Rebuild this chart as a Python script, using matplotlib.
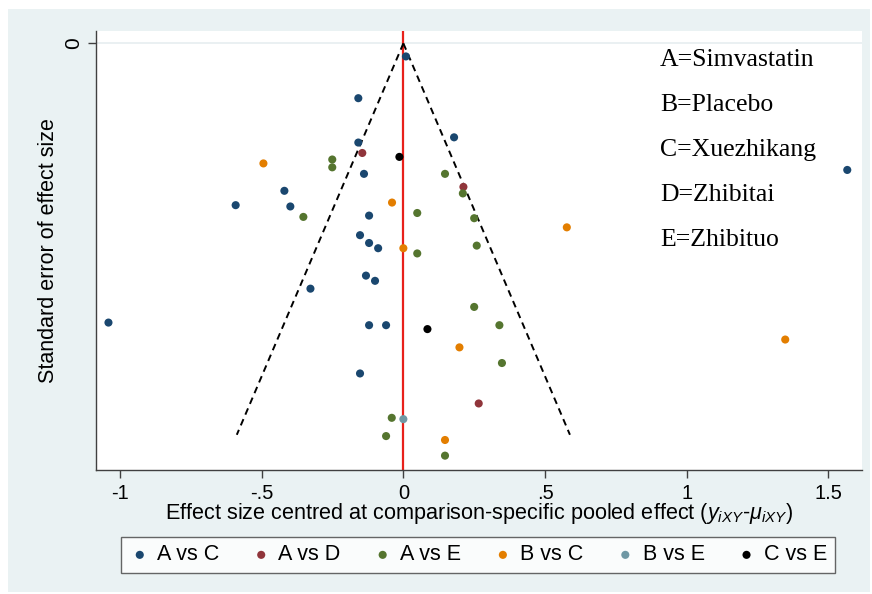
import matplotlib
matplotlib.use("Agg")
import matplotlib.pyplot as plt
from matplotlib.patches import Rectangle

plt.rcParams["mathtext.fontset"] = "custom"
plt.rcParams["mathtext.it"] = "Liberation Sans:italic"
plt.rcParams["mathtext.rm"] = "Liberation Sans"

# ---- data (effect centred, standard error) ----
ac_x = [0.009, -0.159, -0.159, -0.139, -0.420, -0.592, -0.399, -0.121, -0.153, -0.121,
        -0.089, -0.132, -0.100, -0.328, -1.041, -0.121, -0.061, -0.153, 0.179, 1.567]
ac_se = [0.010, 0.042, 0.076, 0.100, 0.113, 0.124, 0.125, 0.132, 0.147, 0.153,
         0.157, 0.178, 0.182, 0.188, 0.214, 0.216, 0.216, 0.253, 0.072, 0.097]
ad_x = [-0.145, 0.212, 0.266]
ad_se = [0.084, 0.110, 0.276]
ae_x = [-0.251, -0.251, -0.353, 0.049, 0.049, 0.147, 0.210, 0.250, 0.259,
        0.250, 0.339, 0.348, -0.041, -0.061, 0.147]
ae_se = [0.089, 0.095, 0.133, 0.130, 0.161, 0.100, 0.115, 0.134, 0.155,
         0.202, 0.216, 0.245, 0.287, 0.301, 0.316]
bc_x = [-0.494, -0.040, 0.000, 0.577, 0.198, 1.348, 0.147]
bc_se = [0.092, 0.122, 0.157, 0.141, 0.233, 0.227, 0.304]
be_x = [0.000]
be_se = [0.288]
ce_x = [-0.014, 0.085]
ce_se = [0.087, 0.219]

series = [
    ("A vs C", ac_x, ac_se, "#1a476f"),
    ("A vs D", ad_x, ad_se, "#90353b"),
    ("A vs E", ae_x, ae_se, "#55752f"),
    ("B vs C", bc_x, bc_se, "#e37e00"),
    ("B vs E", be_x, be_se, "#6f98a4"),
    ("C vs E", ce_x, ce_se, "#000000"),
]

funnel_se_max = 0.30
z = 1.96
x_ticks = [-1, -0.5, 0, 0.5, 1, 1.5]
x_tick_labels = ["-1", "-.5", "0", ".5", "1", "1.5"]
notes = ["A=Simvastatin", "B=Placebo", "C=Xuezhikang", "D=Zhibitai", "E=Zhibituo"]

W, H = 872, 594
fig = plt.figure(figsize=(W / 100, H / 100), dpi=100)
fig.patch.set_facecolor("white")
fig.patches.append(Rectangle((8 / W, 1 - 592 / H), (870 - 8) / W, (592 - 9) / H,
                             transform=fig.transFigure, facecolor="#eaf2f3",
                             edgecolor="none", zorder=-10))

ax = fig.add_axes([96 / W, 1 - 470 / H, (862 - 96) / W, (470 - 31) / H])
ax.set_zorder(1)
ax.set_facecolor("white")

ax.set_xlim(-1.085, 1.619)
ax.set_ylim(0.327, -0.0095)

ax.axhline(0, color="#e6eef0", lw=1.2, zorder=0)
ax.axvline(0, color="#e8211b", lw=1.6, zorder=1)
ax.plot([0, -z * funnel_se_max], [0, funnel_se_max], ls=(0, (3.5, 2.5)), color="black", lw=1.4, zorder=2)
ax.plot([0, z * funnel_se_max], [0, funnel_se_max], ls=(0, (3.5, 2.5)), color="black", lw=1.4, zorder=2)

handles = []
for name, xs, ses, col in series:
    h = ax.scatter(xs, ses, s=34, color=col, edgecolors="none", label=name, zorder=3)
    handles.append(h)

for s in ["top", "right"]:
    ax.spines[s].set_visible(False)
for s in ["left", "bottom"]:
    ax.spines[s].set_color("#404040")
    ax.spines[s].set_linewidth(1.0)

ax.set_xticks(x_ticks)
ax.set_xticklabels(x_tick_labels, fontsize=14.5, family="Liberation Sans")
ax.set_yticks([0])
ax.set_yticklabels(["0"], fontsize=15, family="Liberation Sans", rotation=90, va="center")
ax.tick_params(axis="both", length=6, width=1, color="#404040", pad=3)
ax.tick_params(axis="x", pad=4)

ax.set_xlabel(r"Effect size centred at comparison-specific pooled effect ($y_{iXY}$-$\mu_{iXY}$)",
              fontsize=15.6, family="Liberation Sans", labelpad=-1)
ax.set_ylabel("Standard error of effect size", fontsize=15.5, family="Liberation Sans", labelpad=4)

for i, t in enumerate(notes):
    fig.text(660 / W, 1 - (60 + 45 * i) / H, t, fontsize=18.5, family="Liberation Serif",
             va="center", ha="left")

leg = fig.legend(handles=handles, loc="center", bbox_to_anchor=(478 / W, 1 - 555 / H),
                 ncol=6, frameon=True, fancybox=False,
                 prop={"family": "Liberation Sans", "size": 15.5},
                 handletextpad=0.3, columnspacing=1.45, markerscale=1.0,
                 borderpad=0.35, handlelength=1.0)
leg.get_frame().set_edgecolor("#404040")
leg.get_frame().set_linewidth(1.0)
leg.get_frame().set_facecolor("white")

fig.savefig("out.png", dpi=100, facecolor=fig.get_facecolor())
